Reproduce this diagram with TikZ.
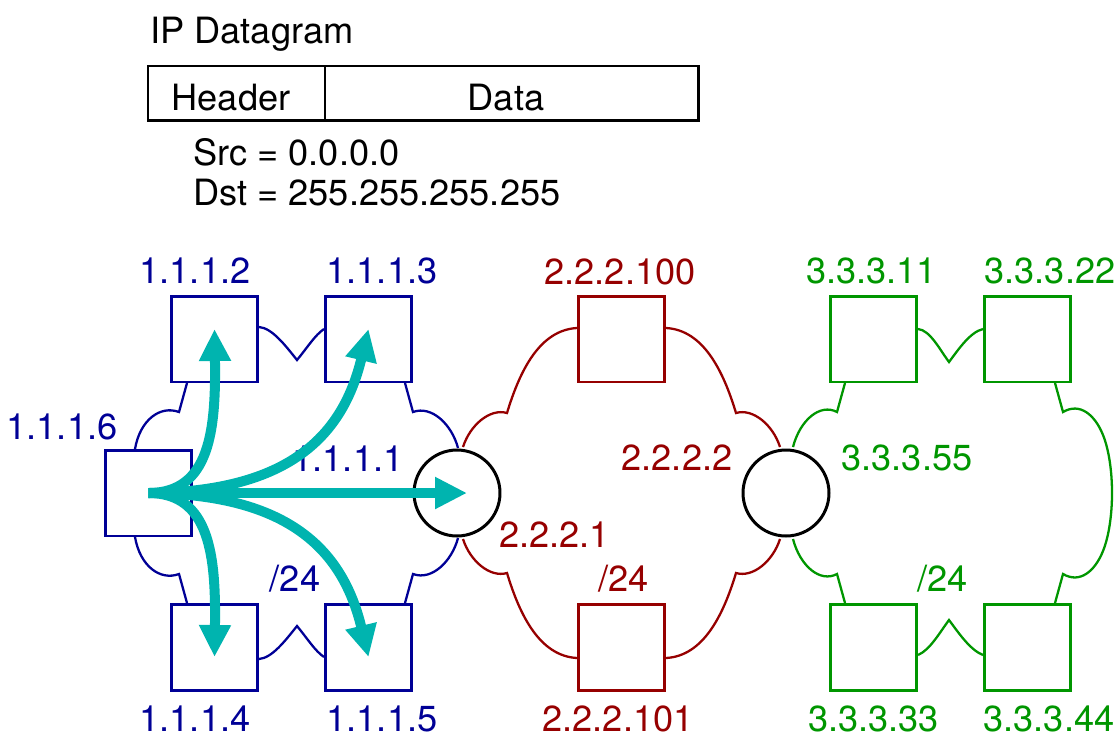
\documentclass[tikz,border=0pt]{standalone}
\usepackage{fontspec}
\setmainfont{TeX Gyre Heros}
\usetikzlibrary{arrows.meta}

\definecolor{netA}{RGB}{0,0,150}
\definecolor{netB}{RGB}{150,0,0}
\definecolor{netC}{RGB}{0,150,0}
\definecolor{bcast}{RGB}{0,180,175}

\tikzset{
  lbl/.style={font=\fontsize{20.6}{24}\selectfont, inner sep=0pt, anchor=base},
  host/.style={draw=#1, line width=1.7pt, fill=white, minimum size=1.72cm, inner sep=0pt},
  router/.style={circle, draw=black, line width=1.7pt, fill=white, minimum size=1.72cm, inner sep=0pt},
  wire/.style={draw=#1, line width=1.3pt},
  flood/.style={draw=bcast, line width=0.2cm, -{Triangle[length=0.64cm,width=0.6cm]}}
}

\begin{document}
\begin{tikzpicture}[x=0.02cm, y=-0.02cm]
\useasboundingbox (0,0) rectangle (1118,738);

% the datagram
\node[lbl, anchor=base west] (title) at (150,43) {IP Datagram};
\draw[line width=1.7pt] (148,66) rectangle (698,120);
\draw[line width=1.7pt] (325,66) -- (325,120);
\node[lbl] (hdr) at (231,110) {Header};
\node[lbl] (dat) at (506,110) {Data};
\node[lbl, anchor=base west] (src) at (193,165) {Src = 0.0.0.0};
\node[lbl, anchor=base west] (dst) at (193,205) {Dst = 255.255.255.255};

% cloud outlines, 1.1.1.0/24
\draw[wire=netA] (259,327) .. controls (272,328) and (285,345) .. (297,360) .. controls (307,348) and (315,335) .. (324,329);
\draw[wire=netA] (187,383) -- (179,412) .. controls (160,405) and (140,420) .. (135,449);
\draw[wire=netA] (135,537) .. controls (140,566) and (160,581) .. (179,574) -- (187,603);
\draw[wire=netA] (259,659) .. controls (272,658) and (285,641) .. (297,626) .. controls (307,638) and (315,651) .. (324,657);
\draw[wire=netA] (405,383) -- (413,412) .. controls (432,405) and (452,425) .. (458,448);
\draw[wire=netA] (458,538) .. controls (452,561) and (432,581) .. (413,574) -- (405,603);

% 2.2.2.0/24
\draw[wire=netB] (463,447) .. controls (470,425) and (490,408) .. (507,413) .. controls (520,370) and (540,330) .. (577,328);
\draw[wire=netB] (666,328) .. controls (703,330) and (723,370) .. (736,413) .. controls (753,408) and (773,425) .. (780,447);
\draw[wire=netB] (463,539) .. controls (470,561) and (490,578) .. (507,573) .. controls (520,616) and (540,656) .. (577,658);
\draw[wire=netB] (666,658) .. controls (703,656) and (723,616) .. (736,573) .. controls (753,578) and (773,561) .. (780,539);

% 3.3.3.0/24
\draw[wire=netC] (918,329) .. controls (930,330) and (940,350) .. (949,362) .. controls (958,350) and (970,332) .. (983,329);
\draw[wire=netC] (793,447) .. controls (800,420) and (820,403) .. (837,412) -- (845,383);
\draw[wire=netC] (793,539) .. controls (800,566) and (820,583) .. (837,574) -- (845,603);
\draw[wire=netC] (918,655) .. controls (930,650) and (940,632) .. (949,620) .. controls (958,632) and (970,650) .. (983,655);
\draw[wire=netC] (1055,383) -- (1063,412) .. controls (1080,402) and (1095,415) .. (1103,435)
  .. controls (1115,465) and (1115,521) .. (1103,551) .. controls (1095,571) and (1080,584) .. (1063,574) -- (1055,603);

% hosts and routers
\node[host=netA] (h2) at (214.5,339) {};
\node[host=netA] (h3) at (368.5,339) {};
\node[host=netA] (h6) at (148.5,493) {};
\node[host=netA] (h4) at (214.5,647) {};
\node[host=netA] (h5) at (368.5,647) {};
\node[router] (r1) at (457,493) {};
\node[router] (r2) at (786,493) {};
\node[host=netB] (s100) at (621.5,339) {};
\node[host=netB] (s101) at (621.5,647) {};
\node[host=netC] (g11) at (873.5,339) {};
\node[host=netC] (g22) at (1027.5,339) {};
\node[host=netC] (g33) at (873.5,647) {};
\node[host=netC] (g44) at (1027.5,647) {};

% addresses
\begin{scope}[every node/.append style={text=netA}]
  \node[lbl] (a2) at (195,283.5) {1.1.1.2};
  \node[lbl] (a3) at (382,283.5) {1.1.1.3};
  \node[lbl] (a4) at (195,731) {1.1.1.4};
  \node[lbl] (a5) at (382,731) {1.1.1.5};
  \node[lbl] (a6) at (62,439.5) {1.1.1.6};
  \node[lbl] (a1) at (348,471.5) {1.1.1.1};
  \node[lbl] (am) at (295,591) {/24};
\end{scope}
\begin{scope}[every node/.append style={text=netB}]
  \node[lbl] (b100) at (620,284.5) {2.2.2.100};
  \node[lbl] (b101) at (618,731) {2.2.2.101};
  \node[lbl] (b2) at (677,470) {2.2.2.2};
  \node[lbl] (b1) at (554.5,547) {2.2.2.1};
  \node[lbl] (bm) at (623.5,591) {/24};
\end{scope}
\begin{scope}[every node/.append style={text=netC}]
  \node[lbl] (c11) at (871.5,283.5) {3.3.3.11};
  \node[lbl] (c22) at (1050,283.5) {3.3.3.22};
  \node[lbl] (c33) at (873.5,731) {3.3.3.33};
  \node[lbl] (c44) at (1049,731) {3.3.3.44};
  \node[lbl] (c55) at (907,470) {3.3.3.55};
  \node[lbl] (cm) at (942.5,591) {/24};
\end{scope}

% broadcast from 1.1.1.6
\draw[flood] (h6.center) -- ([xshift=0.2cm]r1.center);
\draw[flood] (h6.center) .. controls (210,493) and (216,430) .. ([yshift=0.2cm]h2.center);
\draw[flood] (h6.center) .. controls (290,492) and (343,435) .. ([yshift=0.2cm]h3.center);
\draw[flood] (h6.center) .. controls (210,493) and (216,556) .. ([yshift=-0.2cm]h4.center);
\draw[flood] (h6.center) .. controls (290,494) and (343,551) .. ([yshift=-0.2cm]h5.center);
\end{tikzpicture}
\end{document}
